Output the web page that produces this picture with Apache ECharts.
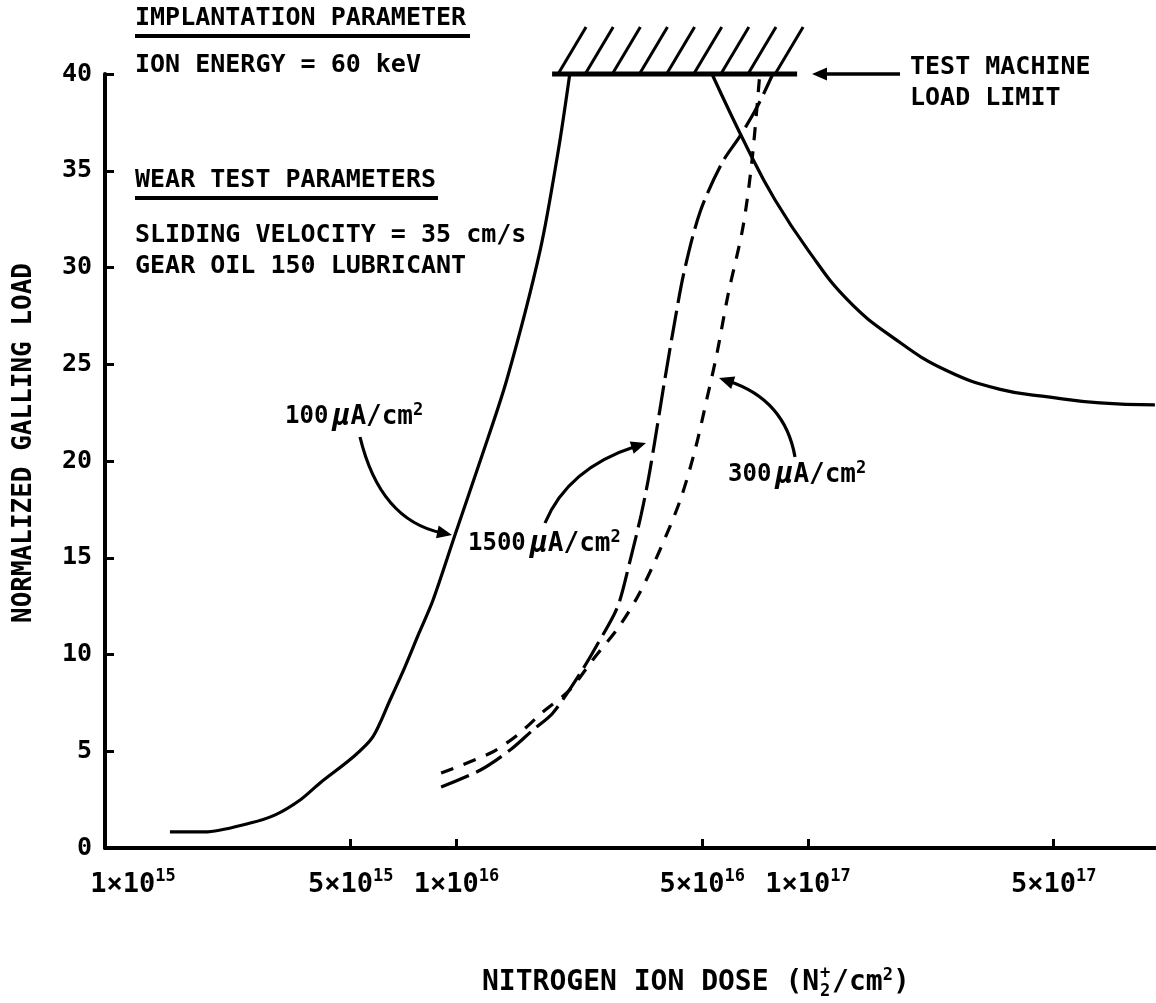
<!DOCTYPE html>
<html>
<head>
<meta charset="utf-8">
<style>
  html, body { margin: 0; padding: 0; background: #fff; }
  #chart { width: 1156px; height: 1003px; }
</style>
<script src="https://cdn.jsdelivr.net/npm/echarts@6/dist/echarts.min.js"></script>
</head>
<body>
<div id="chart"></div>
<script>
// Normalized galling load versus nitrogen ion dose for three beam current densities.

// 100 µA/cm² (solid)
const dose100 = [1.53e15, 1.92e15, 2.59e15, 3.05e15, 3.59e15, 4.09e15, 5.08e15, 5.78e15,
                 6.47e15, 7.13e15, 7.82e15, 8.57e15, 9.91e15, 1.17e16, 1.39e16, 1.73e16, 1.95e16, 2.10e16];
const load100 = [0.83, 0.83, 1.29, 1.71, 2.48, 3.36, 4.70, 5.74,
                 7.65, 9.35, 11.1, 12.8, 16.2, 20.05, 24.2, 30.9, 36.1, 40];

// 300 µA/cm² (short dashes)
const dose300 = [9.04e15, 1.25e16, 1.49e16, 1.76e16, 2.10e16, 2.44e16, 2.92e16, 3.33e16, 3.79e16,
                 4.33e16, 4.77e16, 5.17e16, 5.51e16, 5.92e16, 6.53e16, 6.93e16, 7.29e16];
const load300 = [3.88, 4.91, 5.84, 7.03, 8.17, 9.72, 11.52, 13.23, 15.40,
                 17.98, 20.57, 23.31, 25.58, 28.58, 32.09, 35.56, 40];

// 1500 µA/cm² (long dashes)
const dose1500 = [9.04e15, 1.17e16, 1.42e16, 1.65e16, 1.88e16, 2.25e16, 2.51e16, 2.87e16, 3.12e16, 3.35e16,
                  3.51e16, 3.67e16, 3.89e16, 4.16e16, 4.44e16, 4.93e16, 5.69e16, 6.41e16, 7.16e16, 7.94e16];
const load1500 = [3.15, 4.03, 5.06, 6.10, 6.98, 9.04, 10.49, 12.45, 14.88, 17.21,
                  19.02, 21.09, 23.93, 27.03, 29.77, 32.87, 35.40, 36.80, 38.29, 40];

// Falling branch beyond the load limit (solid)
const doseHigh = [5.33e16, 6.75e16, 8.05e16, 1.0e17, 1.30e17, 1.77e17, 2.46e17, 3.52e17, 4.88e17, 6.77e17, 9.7e17];
const loadHigh = [40, 36.1, 33.5, 30.9, 28.3, 26.3, 24.7, 23.7, 23.3, 23.0, 22.9];

// Test machine load limit
const loadLimit = 40;
const limitDoseRange = [1.87e16, 9.31e16];

// Axes
const xMin = 1e15;
const xMax = 9.77e17;
const xTickValues = [1e15, 5e15, 1e16, 5e16, 1e17, 5e17];
const xTickLabels = ['1×10^15', '5×10^15', '1×10^16', '5×10^16', '1×10^17', '5×10^17'];
const yMin = 0, yMax = 40, yStep = 5;

const FAMILY = '"DejaVu Sans Mono", monospace';
const INK = '#000';

function pairs(xs, ys) { return xs.map((x, i) => [x, ys[i]]); }

function xLabel(value) {
  let idx = xTickValues.findIndex(v => Math.abs(v - value) / v < 1e-6);
  if (idx < 0) return '';
  const [base, exp] = xTickLabels[idx].split('^');
  return (idx === 0 ? '{b0|' : '{b|') + base + '}{s|' + exp + '}';
}

function curve(data, dash, smooth) {
  return {
    type: 'line', data, symbol: 'none', showSymbol: false, smooth: smooth || 0.3,
    clip: false, silent: true,
    lineStyle: { color: INK, width: 3.2, type: dash || 'solid', cap: 'butt' }
  };
}

const chart = echarts.init(document.getElementById('chart'), null, { renderer: 'canvas' });

const labelText = { fontFamily: FAMILY, fontWeight: 'bold', color: INK };

chart.setOption({
  animation: false,
  backgroundColor: '#fff',
  grid: { left: 105, right: 0, top: 74, bottom: 155, containLabel: false },
  xAxis: {
    type: 'log', logBase: 10, min: xMin, max: xMax,
    axisLine: { show: true, onZero: false, lineStyle: { color: INK, width: 4 } },
    axisTick: { show: true, inside: true, length: 9, customValues: xTickValues,
                lineStyle: { color: INK, width: 3 } },
    minorTick: { show: false },
    splitLine: { show: false },
    axisLabel: {
      customValues: xTickValues, margin: 20, formatter: xLabel,
      rich: {
        b:  Object.assign({ fontSize: 27, lineHeight: 34 }, labelText),
        b0: Object.assign({ fontSize: 27, lineHeight: 34, padding: [0, 0, 0, 56] }, labelText),
        s:  Object.assign({ fontSize: 17, verticalAlign: 'top' }, labelText)
      }
    }
  },
  yAxis: {
    type: 'value', min: yMin, max: yMax, interval: yStep,
    axisLine: { show: true, onZero: false, lineStyle: { color: INK, width: 4 } },
    axisTick: { show: true, inside: true, length: 9, lineStyle: { color: INK, width: 3 } },
    splitLine: { show: false },
    axisLabel: Object.assign({ fontSize: 25, margin: 13 }, labelText)
  },
  series: [
    curve(pairs(dose100, load100), 'solid', 0.3),
    curve(pairs(dose300, load300), [13, 11], 0.3),
    curve(pairs(dose1500, load1500), [30, 8], 0.3),
    curve(pairs(doseHigh, loadHigh), 'solid', 0.45),
    {
      // load limit bar with hatching above it
      type: 'custom', coordinateSystem: 'cartesian2d', clip: false, silent: true,
      data: [[limitDoseRange[0], limitDoseRange[1], loadLimit]],
      encode: { x: [0, 1], y: 2 },
      renderItem: function (params, api) {
        const p0 = api.coord([api.value(0), api.value(2)]);
        const p1 = api.coord([api.value(1), api.value(2)]);
        const children = [{
          type: 'line',
          shape: { x1: p0[0], y1: p0[1], x2: p1[0], y2: p1[1] },
          style: { stroke: INK, lineWidth: 5 }
        }];
        const count = 9;
        const rise = 47, run = 28;
        const step = (p1[0] - p0[0] - run + 4) / (count - 1) - 0.5;
        for (let k = 0; k < count; k++) {
          const bx = p0[0] + 6 + k * step;
          children.push({
            type: 'line',
            shape: { x1: bx, y1: p0[1], x2: bx + run, y2: p0[1] - rise },
            style: { stroke: INK, lineWidth: 3 }
          });
        }
        return { type: 'group', children };
      }
    }
  ]
});

// ---- annotation layer ----
function txt(text, x, y, size, extra) {
  return Object.assign({
    type: 'text', silent: true,
    style: { text, x, y, font: 'bold ' + size + 'px ' + FAMILY, fill: INK,
             align: 'left', verticalAlign: 'middle' }
  }, extra || {});
}
function rule(x1, y1, x2, y2, w) {
  return { type: 'line', silent: true, shape: { x1, y1, x2, y2 },
           style: { stroke: INK, lineWidth: w || 3 } };
}
function head(tip, from, len, half) {
  const dx = tip[0] - from[0], dy = tip[1] - from[1];
  const d = Math.hypot(dx, dy), ux = dx / d, uy = dy / d;
  const bx = tip[0] - ux * len, by = tip[1] - uy * len;
  return {
    poly: { type: 'polygon', silent: true,
            shape: { points: [tip, [bx - uy * half, by + ux * half], [bx + uy * half, by - ux * half]] },
            style: { fill: INK } },
    base: [tip[0] - ux * len * 0.7, tip[1] - uy * len * 0.7]
  };
}
function curvedArrow(start, ctrl, tip) {
  const h = head(tip, ctrl, 15, 6.5);
  return [{
    type: 'bezierCurve', silent: true,
    shape: { x1: start[0], y1: start[1], cpx1: ctrl[0], cpy1: ctrl[1], x2: h.base[0], y2: h.base[1] },
    style: { stroke: INK, lineWidth: 3.2, fill: null }
  }, h.poly];
}
function currentLabel(num, x, y) {
  return {
    type: 'text', silent: true,
    style: {
      text: '{n|' + num + '}{mu|µ}{u|A/cm}{sup|2}', x, y,
      align: 'left', verticalAlign: 'middle', fill: INK,
      rich: {
        n:   { fontFamily: FAMILY, fontWeight: 'bold', fontSize: 24, lineHeight: 30, fill: INK },
        mu:  { fontFamily: FAMILY, fontWeight: 'bold', fontStyle: 'italic', fontSize: 30, lineHeight: 30,
               padding: [0, 0, 0, 4], fill: INK },
        u:   { fontFamily: FAMILY, fontWeight: 'bold', fontSize: 26, lineHeight: 30, fill: INK },
        sup: { fontFamily: FAMILY, fontWeight: 'bold', fontSize: 17, verticalAlign: 'top', fill: INK }
      }
    }
  };
}

const tfs = 28, pitch = tfs * 0.602;
const titleX = 482, titleY = 983;
const afterN = titleX + 20 * pitch;

const elements = [
  txt('IMPLANTATION PARAMETER', 135, 18, 25),
  rule(135, 36, 470, 36, 4),
  txt('ION ENERGY = 60 keV', 135, 65, 25),
  txt('WEAR TEST PARAMETERS', 135, 180, 25),
  rule(135, 198, 438, 198, 4),
  txt('SLIDING VELOCITY = 35 cm/s', 135, 235, 25),
  txt('GEAR OIL 150 LUBRICANT', 135, 266, 25),

  txt('TEST MACHINE', 910, 67, 25),
  txt('LOAD LIMIT', 910, 98, 25),
  rule(900, 74, 822, 74, 3.5),
  head([812, 74], [900, 74], 15, 6.5).poly,

  currentLabel('100', 285, 417),
  currentLabel('1500', 468, 544),
  currentLabel('300', 728, 475),
  ...curvedArrow([360, 437], [380, 520], [452, 535]),
  ...curvedArrow([545, 523], [568, 468], [646, 443]),
  ...curvedArrow([795, 457], [785, 400], [719, 378]),

  // axis titles
  txt('NORMALIZED GALLING LOAD', 24, 443, 26, { rotation: Math.PI / 2, x: 24, y: 443,
      style: { text: 'NORMALIZED GALLING LOAD', x: 0, y: 0, font: 'bold 26px ' + FAMILY,
               fill: INK, align: 'center', verticalAlign: 'middle' } }),
  txt('NITROGEN ION DOSE (N', titleX, titleY, tfs),
  txt('+', afterN + 1, titleY - 9, 17),
  txt('2', afterN + 1, titleY + 9, 17),
  {
    type: 'text', silent: true,
    style: {
      text: '{t|/cm}{s|2}{t|)}', x: afterN + 13, y: titleY,
      align: 'left', verticalAlign: 'middle', fill: INK,
      rich: {
        t: { fontFamily: FAMILY, fontWeight: 'bold', fontSize: tfs, lineHeight: 32, fill: INK },
        s: { fontFamily: FAMILY, fontWeight: 'bold', fontSize: 17, verticalAlign: 'top', fill: INK }
      }
    }
  }
];

chart.setOption({ graphic: { elements } });
</script>
</body>
</html>
